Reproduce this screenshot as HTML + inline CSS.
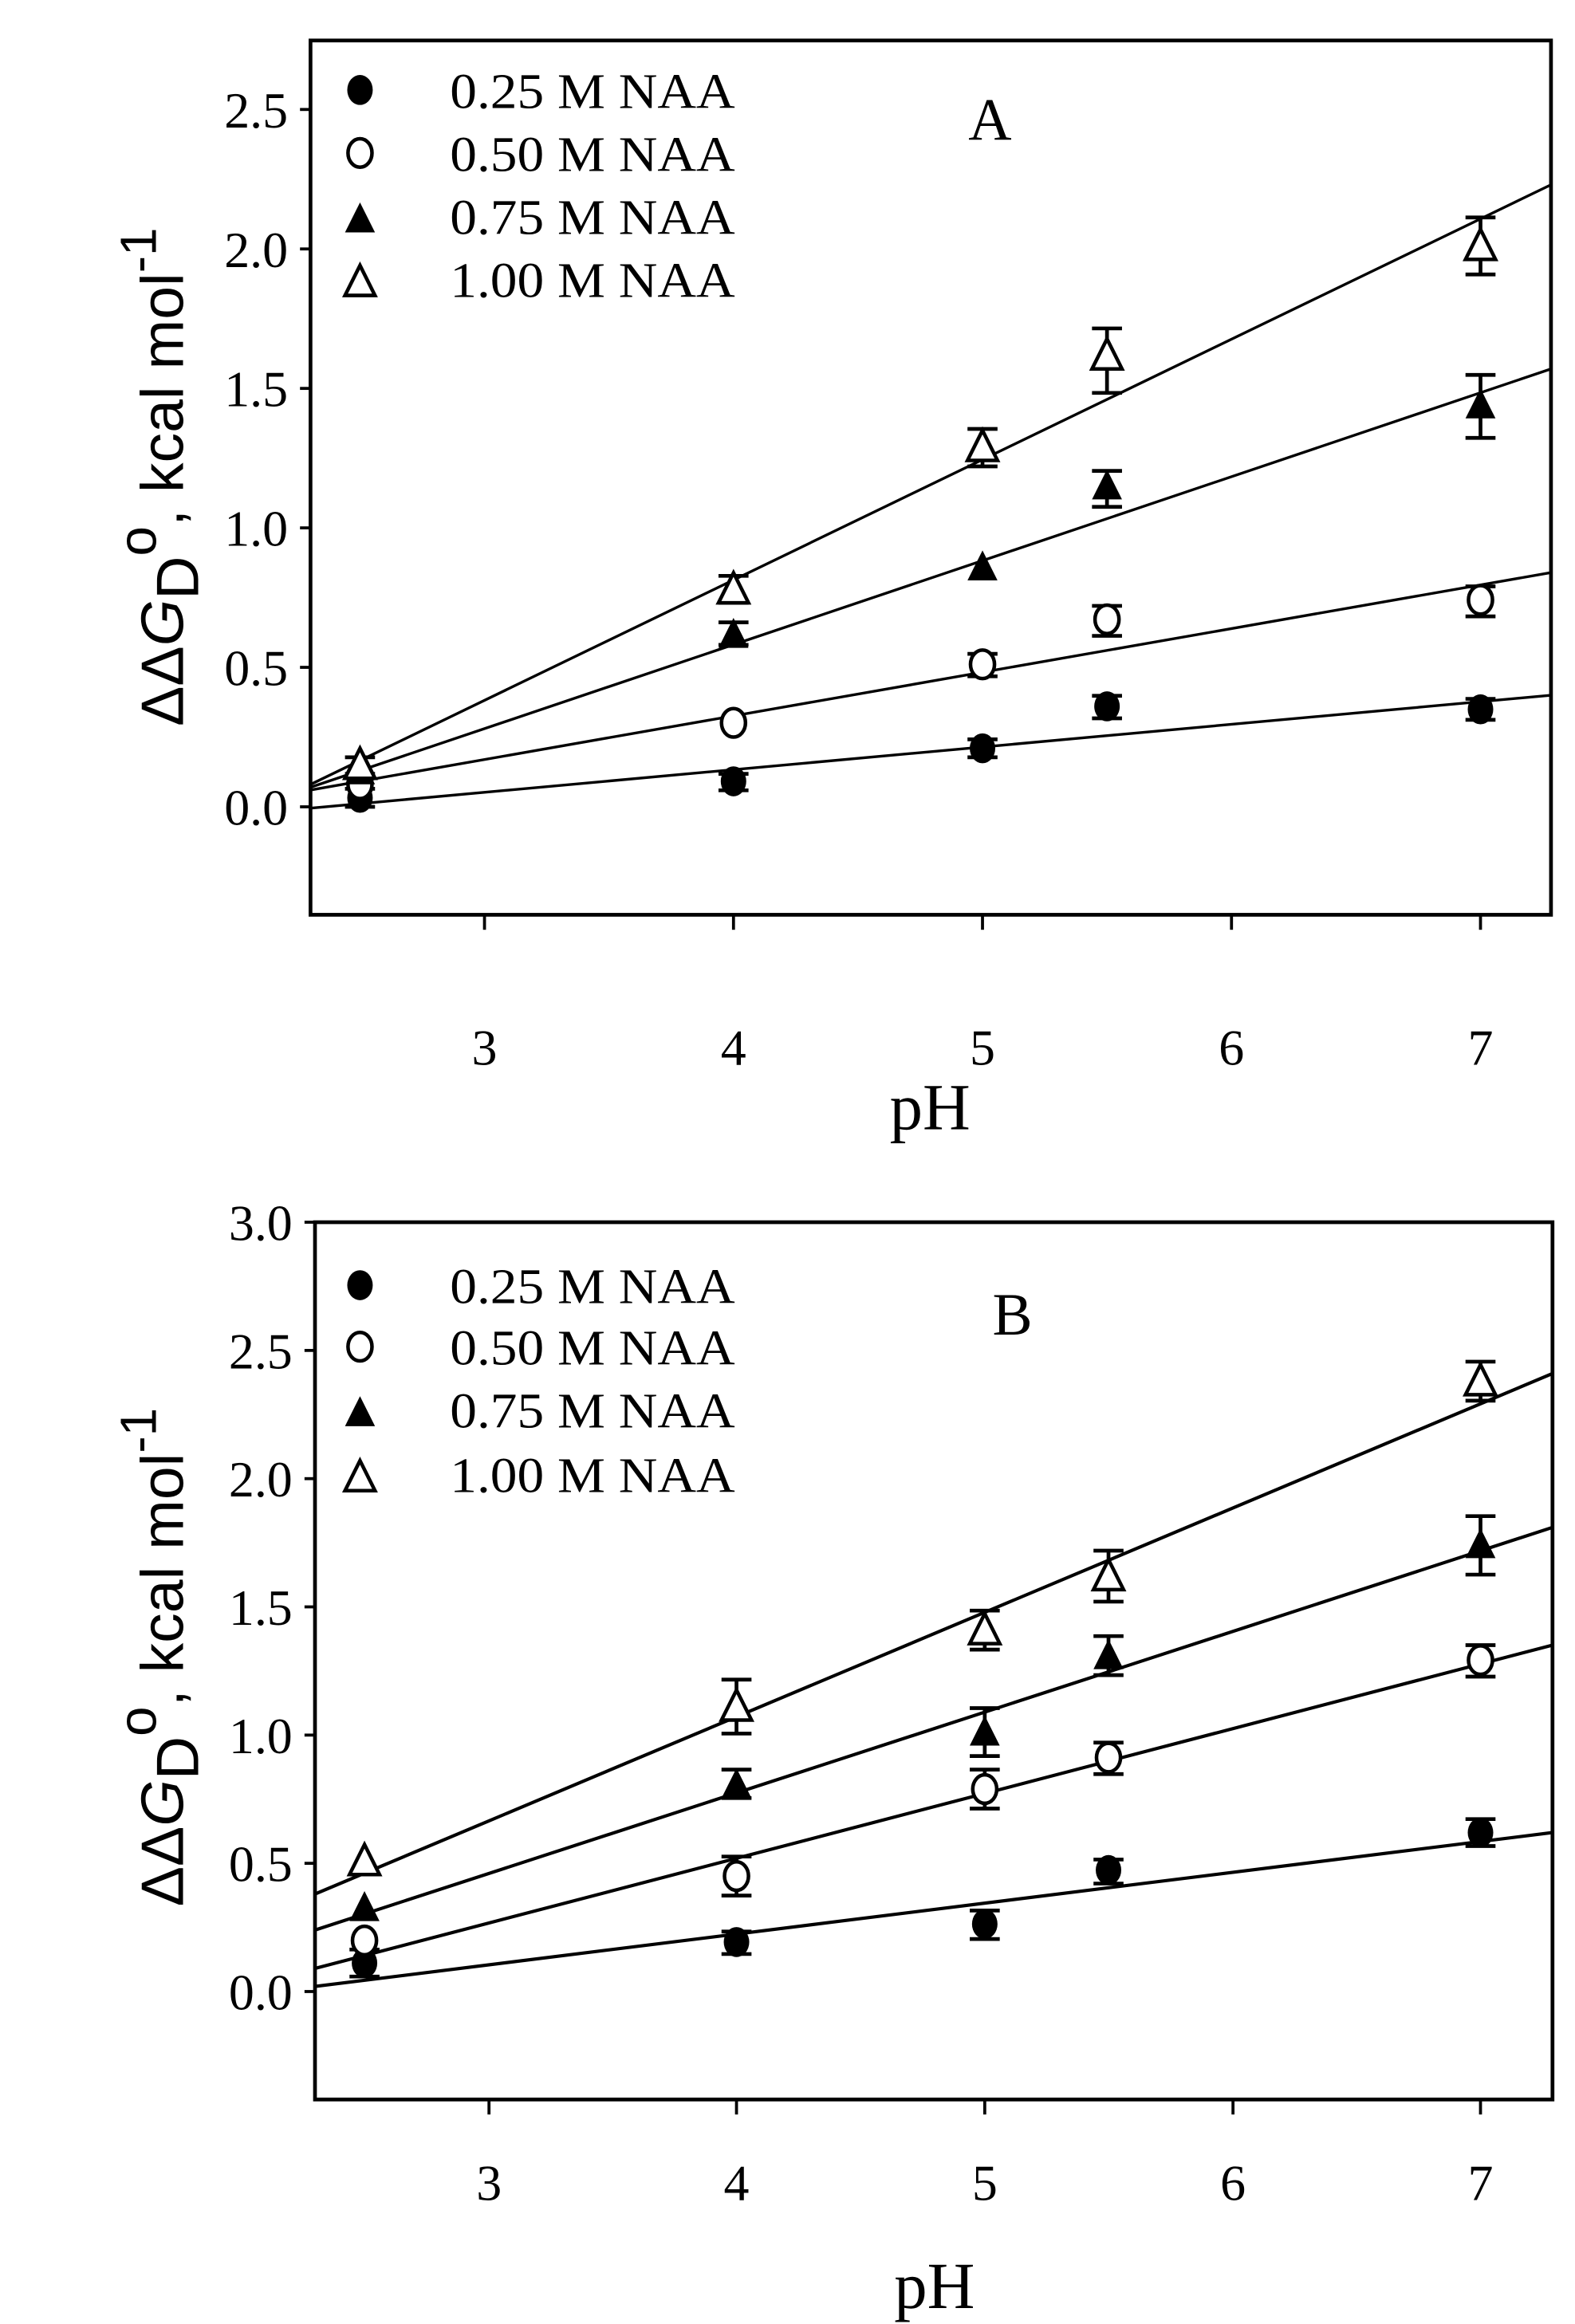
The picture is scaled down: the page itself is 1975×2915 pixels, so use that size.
<!DOCTYPE html>
<html><head><meta charset="utf-8"><style>html,body{margin:0;padding:0;background:#fff}svg{display:block}</style></head>
<body>
<svg width="1975" height="2915" viewBox="0 0 1050 1549.7" preserveAspectRatio="none" xmlns="http://www.w3.org/2000/svg">
<defs>
<g id="fc"><ellipse rx="8.5" ry="10" fill="#000"/></g>
<g id="oc"><ellipse rx="8" ry="9.5" fill="#fff" stroke="#000" stroke-width="2.4"/></g>
<g id="ft"><path d="M0,-11 L10,9 L-10,9 Z" fill="#000"/></g>
<g id="ot"><path d="M0,-11 L10,9 L-10,9 Z" fill="#fff" stroke="#000" stroke-width="2.4"/></g>
</defs>
<g font-family="Liberation Serif, serif" fill="#000">
<!-- ================= PANEL A ================= -->
<rect x="207" y="27" width="827" height="583" fill="none" stroke="#000" stroke-width="2.5"/>
<g stroke="#000" stroke-width="2">
<line x1="200" y1="538" x2="207" y2="538"/><line x1="200" y1="445" x2="207" y2="445"/><line x1="200" y1="352" x2="207" y2="352"/><line x1="200" y1="259" x2="207" y2="259"/><line x1="200" y1="166" x2="207" y2="166"/><line x1="200" y1="73" x2="207" y2="73"/>
<line x1="323" y1="610" x2="323" y2="620"/><line x1="489" y1="610" x2="489" y2="620"/><line x1="655" y1="610" x2="655" y2="620"/><line x1="821" y1="610" x2="821" y2="620"/><line x1="987" y1="610" x2="987" y2="620"/>
</g>
<g font-size="34" text-anchor="end">
<text x="192" y="550">0.0</text><text x="192" y="457">0.5</text><text x="192" y="364">1.0</text><text x="192" y="271">1.5</text><text x="192" y="178">2.0</text><text x="192" y="85">2.5</text>
</g>
<g font-size="34" text-anchor="middle">
<text x="323" y="710">3</text><text x="489" y="710">4</text><text x="655" y="710">5</text><text x="821" y="710">6</text><text x="987" y="710">7</text>
<text x="620" y="753" font-size="44">pH</text>
<text x="660" y="93" font-size="40">A</text>
</g>
<text transform="translate(122,318) rotate(-90)" text-anchor="middle" font-family="Liberation Sans, sans-serif" font-size="40">ΔΔ<tspan font-style="italic">G</tspan><tspan dy="10">D</tspan><tspan dy="-28" font-size="36">o</tspan><tspan dy="18">, kcal mol</tspan><tspan dy="-18" font-size="34">-1</tspan></text>
<g font-size="33">
<text x="300" y="72" textLength="190" lengthAdjust="spacingAndGlyphs">0.25 M NAA</text><text x="300" y="114" textLength="190" lengthAdjust="spacingAndGlyphs">0.50 M NAA</text><text x="300" y="156" textLength="190" lengthAdjust="spacingAndGlyphs">0.75 M NAA</text><text x="300" y="198" textLength="190" lengthAdjust="spacingAndGlyphs">1.00 M NAA</text>
</g>
<use href="#fc" x="240" y="60"/><use href="#oc" x="240" y="102"/><use href="#ft" x="240" y="146"/><use href="#ot" x="240" y="188"/>
<g stroke="#000" stroke-width="1.8">
<line x1="207" y1="538.9" x2="1034" y2="463.6"/>
<line x1="207" y1="526.8" x2="1034" y2="381.8"/>
<line x1="207" y1="525" x2="1034" y2="246"/>
<line x1="207" y1="523.1" x2="1034" y2="123.2"/>
</g>
<g stroke="#000" stroke-width="2.5" fill="none">
<path d="M987,145 V183 M977,145 H997 M977,183 H997"/>
<path d="M738,219 V262 M728,219 H748 M728,262 H748"/>
<path d="M655,286 V311 M645,286 H665 M645,311 H665"/>
<path d="M489,384 V402 M479,384 H499 M479,402 H499"/>
<path d="M987,250 V292 M977,250 H997 M977,292 H997"/>
<path d="M738,314 V338 M728,314 H748 M728,338 H748"/>
<path d="M489,415 V430 M479,415 H499 M479,430 H499"/>
<path d="M987,391 V411 M977,391 H997 M977,411 H997"/>
<path d="M738,404 V424 M728,404 H748 M728,424 H748"/>
<path d="M655,436 V451 M645,436 H665 M645,451 H665"/>
<path d="M987,466 V480 M977,466 H997 M977,480 H997"/>
<path d="M738,464 V479 M728,464 H748 M728,479 H748"/>
<path d="M489,516 V527 M479,516 H499 M479,527 H499"/>
<path d="M655,493 V505 M645,493 H665 M645,505 H665"/>
<path d="M240,505 V516 M230,505 H250 M230,516 H250"/>
<path d="M240,526 V538 M230,526 H250 M230,538 H250"/>
</g>
<use href="#fc" x="240" y="532"/><use href="#fc" x="489" y="521"/><use href="#fc" x="655" y="499"/><use href="#fc" x="738" y="471"/><use href="#fc" x="987" y="473"/>
<use href="#oc" x="240" y="523"/><use href="#oc" x="489" y="482"/><use href="#oc" x="655" y="443"/><use href="#oc" x="738" y="413"/><use href="#oc" x="987" y="400"/>
<use href="#ft" x="240" y="514"/><use href="#ft" x="489" y="423"/><use href="#ft" x="655" y="378"/><use href="#ft" x="738" y="324"/><use href="#ft" x="987" y="270"/>
<use href="#ot" x="240" y="510"/><use href="#ot" x="489" y="393"/><use href="#ot" x="655" y="298"/><use href="#ot" x="738" y="237"/><use href="#ot" x="987" y="164"/>

<!-- ================= PANEL B ================= -->
<rect x="210" y="815" width="825" height="585" fill="none" stroke="#000" stroke-width="2.5"/>
<g stroke="#000" stroke-width="2">
<line x1="203" y1="1328" x2="210" y2="1328"/><line x1="203" y1="1242.5" x2="210" y2="1242.5"/><line x1="203" y1="1157" x2="210" y2="1157"/><line x1="203" y1="1071.5" x2="210" y2="1071.5"/><line x1="203" y1="986" x2="210" y2="986"/><line x1="203" y1="900.5" x2="210" y2="900.5"/><line x1="203" y1="815" x2="210" y2="815"/>
<line x1="326" y1="1400" x2="326" y2="1410"/><line x1="491" y1="1400" x2="491" y2="1410"/><line x1="656.5" y1="1400" x2="656.5" y2="1410"/><line x1="822" y1="1400" x2="822" y2="1410"/><line x1="987" y1="1400" x2="987" y2="1410"/>
</g>
<g font-size="34" text-anchor="end">
<text x="195" y="1340">0.0</text><text x="195" y="1254.5">0.5</text><text x="195" y="1169">1.0</text><text x="195" y="1083.5">1.5</text><text x="195" y="998">2.0</text><text x="195" y="912.5">2.5</text><text x="195" y="827">3.0</text>
</g>
<g font-size="34" text-anchor="middle">
<text x="326" y="1467">3</text><text x="491" y="1467">4</text><text x="656.5" y="1467">5</text><text x="822" y="1467">6</text><text x="987" y="1467">7</text>
<text x="623" y="1539" font-size="44">pH</text>
<text x="675" y="890" font-size="40">B</text>
</g>
<text transform="translate(122,1105) rotate(-90)" text-anchor="middle" font-family="Liberation Sans, sans-serif" font-size="40">ΔΔ<tspan font-style="italic">G</tspan><tspan dy="10">D</tspan><tspan dy="-28" font-size="36">o</tspan><tspan dy="18">, kcal mol</tspan><tspan dy="-18" font-size="34">-1</tspan></text>
<g font-size="33">
<text x="300" y="869" textLength="190" lengthAdjust="spacingAndGlyphs">0.25 M NAA</text><text x="300" y="910" textLength="190" lengthAdjust="spacingAndGlyphs">0.50 M NAA</text><text x="300" y="952" textLength="190" lengthAdjust="spacingAndGlyphs">0.75 M NAA</text><text x="300" y="995" textLength="190" lengthAdjust="spacingAndGlyphs">1.00 M NAA</text>
</g>
<use href="#fc" x="240" y="857"/><use href="#oc" x="240" y="898"/><use href="#ft" x="240" y="942"/><use href="#ot" x="240" y="985"/>
<g stroke="#000" stroke-width="2.2">
<line x1="210" y1="1324.6" x2="1035" y2="1222"/>
<line x1="210" y1="1312.6" x2="1035" y2="1097"/>
<line x1="210" y1="1287" x2="1035" y2="1018.5"/>
<line x1="210" y1="1263" x2="1035" y2="915.9"/>
</g>
<g stroke="#000" stroke-width="2.5" fill="none">
<path d="M987,908 V934 M977,908 H997 M977,934 H997"/>
<path d="M739,1034 V1068 M729,1034 H749 M729,1068 H749"/>
<path d="M656.5,1074 V1100 M646.5,1074 H666.5 M646.5,1100 H666.5"/>
<path d="M491,1120 V1156 M481,1120 H501 M481,1156 H501"/>
<path d="M987,1011 V1050 M977,1011 H997 M977,1050 H997"/>
<path d="M739,1091 V1117 M729,1091 H749 M729,1117 H749"/>
<path d="M656.5,1139 V1171 M646.5,1139 H666.5 M646.5,1171 H666.5"/>
<path d="M491,1180 V1199 M481,1180 H501 M481,1199 H501"/>
<path d="M987,1097 V1118 M977,1097 H997 M977,1118 H997"/>
<path d="M739,1162 V1183 M729,1162 H749 M729,1183 H749"/>
<path d="M656.5,1180 V1206 M646.5,1180 H666.5 M646.5,1206 H666.5"/>
<path d="M491,1238 V1264 M481,1238 H501 M481,1264 H501"/>
<path d="M987,1213 V1231 M977,1213 H997 M977,1231 H997"/>
<path d="M739,1240 V1256 M729,1240 H749 M729,1256 H749"/>
<path d="M656.5,1274 V1293 M646.5,1274 H666.5 M646.5,1293 H666.5"/>
<path d="M491,1288 V1303 M481,1288 H501 M481,1303 H501"/>
<path d="M243,1300 V1318 M233,1300 H253 M233,1318 H253"/>
</g>
<use href="#fc" x="243" y="1309"/><use href="#fc" x="491" y="1295"/><use href="#fc" x="656.5" y="1283"/><use href="#fc" x="739" y="1247"/><use href="#fc" x="987" y="1222"/>
<use href="#oc" x="243" y="1294"/><use href="#oc" x="491" y="1251"/><use href="#oc" x="656.5" y="1193"/><use href="#oc" x="739" y="1172"/><use href="#oc" x="987" y="1107"/>
<use href="#ft" x="243" y="1272"/><use href="#ft" x="491" y="1190"/><use href="#ft" x="656.5" y="1155"/><use href="#ft" x="739" y="1104"/><use href="#ft" x="987" y="1030"/>
<use href="#ot" x="243" y="1241"/><use href="#ot" x="491" y="1138"/><use href="#ot" x="656.5" y="1087"/><use href="#ot" x="739" y="1051"/><use href="#ot" x="987" y="921"/>
</g>
</svg>
</body></html>
